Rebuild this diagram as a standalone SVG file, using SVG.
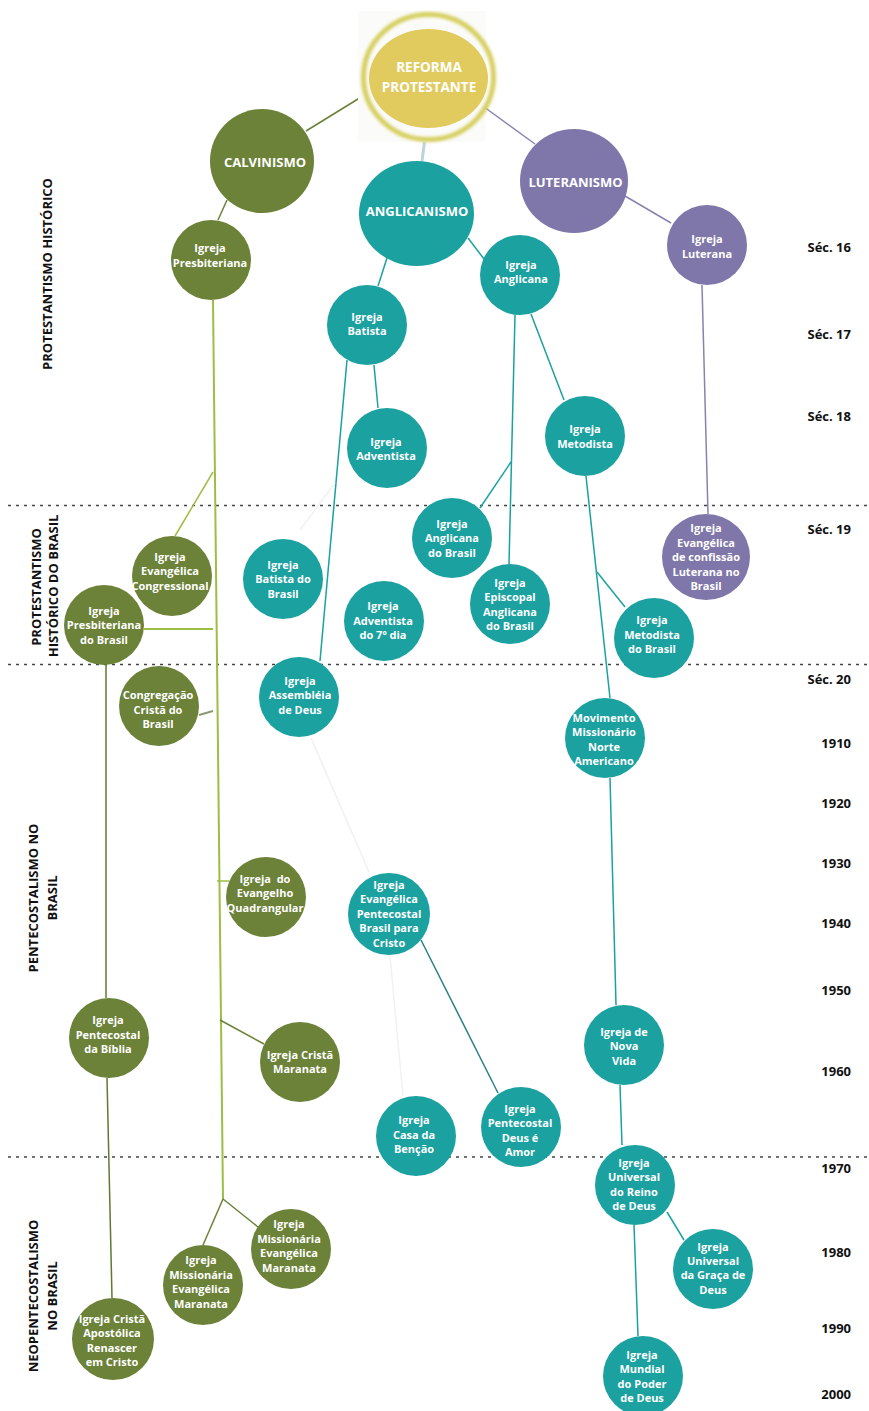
<svg xmlns="http://www.w3.org/2000/svg" width="869" height="1411" viewBox="0 0 869 1411">
<style>
  .g{fill:#6b8238}
  .t{fill:#1ba19f}
  .p{fill:#7f76aa}
  .y{fill:#e2cb5e}
  .nt{font-family:"Open Sans","Noto Sans","DejaVu Sans",sans-serif;font-weight:700;font-size:11px;fill:#ffffff;text-anchor:middle}
  .bt{font-family:"Open Sans","Noto Sans","DejaVu Sans",sans-serif;font-weight:700;font-size:13px;fill:#ffffff;text-anchor:middle}
  .lab{font-family:"Open Sans","Noto Sans","DejaVu Sans",sans-serif;font-weight:700;font-size:13px;fill:#111111}
  .yr{text-anchor:end}
  .sec{text-anchor:middle}
  .sep{stroke:#444444;stroke-width:1.5;stroke-dasharray:3 5;fill:none}
  .c line{stroke-width:1.5;fill:none}
  .lg{stroke:#6b8238}
  .lg2{stroke:#9dbd45}
  .lt{stroke:#1ba19f}
  .lp{stroke:#8a82ae}
  .faint{stroke:#f1f1f1}
</style>
<defs>
  <filter id="blur" x="-20%" y="-20%" width="140%" height="140%"><feGaussianBlur stdDeviation="1.4"/></filter>
</defs>
<rect width="869" height="1411" fill="#ffffff"/>

<g id="separators">
  <line class="sep" x1="8" y1="505.5" x2="869" y2="505.5"/>
  <line class="sep" x1="8" y1="664.5" x2="869" y2="664.5"/>
  <line class="sep" x1="8" y1="1157" x2="869" y2="1157"/>
</g>

<g id="connectors" class="c">
  <line class="lg" x1="371" y1="91" x2="306" y2="131"/>
  <line class="lp" x1="480" y1="104" x2="535" y2="144"/>
  <line x1="426" y1="130" x2="422" y2="161" stroke="#bcd3da" style="stroke-width:3"/>
  <line class="lg" x1="227" y1="200" x2="218" y2="220"/>
  <line class="lt" x1="387" y1="258" x2="378" y2="286"/>
  <line class="lt" x1="468" y1="238" x2="484" y2="259"/>
  <line class="lp" x1="625" y1="196" x2="671" y2="223"/>
  <line class="lp" x1="702" y1="285" x2="708" y2="514"/>
  <line class="lg2" x1="213" y1="300" x2="223" y2="1199" style="stroke-width:2"/>
  <line class="lg2" x1="213" y1="472" x2="175" y2="536"/>
  <line class="lg2" x1="144" y1="629" x2="213" y2="629" style="stroke-width:2"/>
  <line x1="199" y1="715" x2="213" y2="711" stroke="#8a9a70" style="stroke-width:2"/>
  <line class="lg2" x1="217" y1="881" x2="229" y2="881"/>
  <line class="lg" x1="220" y1="1020" x2="264" y2="1044"/>
  <line class="lg" x1="223" y1="1199" x2="203" y2="1245"/>
  <line class="lg" x1="223" y1="1199" x2="258" y2="1227"/>
  <line x1="106" y1="665" x2="106" y2="998" stroke="#5f7a2e"/>
  <line x1="107" y1="1078" x2="112" y2="1298" stroke="#5f7a2e"/>
  <line class="lt" x1="347" y1="360" x2="320" y2="661"/>
  <line class="lt" x1="374" y1="365" x2="378" y2="408"/>
  <line class="lt" x1="515" y1="315" x2="509" y2="564"/>
  <line class="lt" x1="511" y1="462" x2="480" y2="508"/>
  <line class="lt" x1="531" y1="314" x2="564" y2="400"/>
  <line class="lt" x1="586" y1="476" x2="610" y2="698"/>
  <line class="lt" x1="597" y1="572" x2="625" y2="607"/>
  <line class="lt" x1="610" y1="778" x2="616" y2="1005"/>
  <line class="lt" x1="620" y1="1085" x2="622" y2="1145"/>
  <line class="lt" x1="667" y1="1212" x2="684" y2="1240"/>
  <line class="lt" x1="634" y1="1225" x2="638" y2="1336"/>
  <line x1="421" y1="940" x2="498" y2="1093" stroke="#2a8188"/>
  <line class="faint" x1="311" y1="738" x2="369" y2="872"/>
  <line class="faint" x1="390" y1="956" x2="403" y2="1096"/>
  <line class="faint" x1="300" y1="530" x2="335" y2="483"/>
</g>

<g id="labels-left" class="lab sec">
  <text transform="translate(47.5,274) rotate(-90)" y="4.6">PROTESTANTISMO HISTÓRICO</text>
  <text transform="translate(36,587) rotate(-90)" y="4.6">PROTESTANTISMO</text>
  <text transform="translate(53.5,586) rotate(-90)" y="4.6">HISTÓRICO DO BRASIL</text>
  <text transform="translate(33,898) rotate(-90)" y="4.6">PENTECOSTALISMO NO</text>
  <text transform="translate(52,898) rotate(-90)" y="4.6">BRASIL</text>
  <text transform="translate(33,1296) rotate(-90)" y="4.6">NEOPENTECOSTALISMO</text>
  <text transform="translate(52,1296) rotate(-90)" y="4.6">NO BRASIL</text>
</g>

<g id="labels-right" class="lab yr">
  <text x="851" y="251.5">Séc. 16</text>
  <text x="851" y="338.5">Séc. 17</text>
  <text x="851" y="420.5">Séc. 18</text>
  <text x="851" y="533.5">Séc. 19</text>
  <text x="851" y="683.5">Séc. 20</text>
  <text x="851" y="747.5">1910</text>
  <text x="851" y="807.5">1920</text>
  <text x="851" y="867.5">1930</text>
  <text x="851" y="927.5">1940</text>
  <text x="851" y="994.5">1950</text>
  <text x="851" y="1075.5">1960</text>
  <text x="851" y="1172.5">1970</text>
  <text x="851" y="1256.5">1980</text>
  <text x="851" y="1332.5">1990</text>
  <text x="851" y="1398.5">2000</text>
</g>

<g id="reforma">
  <rect x="358" y="11" width="128" height="131" fill="#fbfbf9"/>
  <ellipse cx="428.5" cy="77" rx="65" ry="62.5" fill="none" stroke="#d6cf5e" stroke-width="5" filter="url(#blur)"/>
  <ellipse cx="428.5" cy="78.5" rx="59.5" ry="49.5" class="y"/>
  <text class="bt" style="font-size:13.5px"><tspan x="429" y="71.5">REFORMA</tspan><tspan x="429" y="91.5">PROTESTANTE</tspan></text>
</g>
<g id="calvinismo">
  <circle cx="262" cy="161" r="52" class="g"/>
  <text class="bt" x="265" y="167">CALVINISMO</text>
</g>
<g id="anglicanismo">
  <ellipse cx="416.5" cy="213.5" rx="57.5" ry="52.5" class="t"/>
  <text class="bt" x="417" y="215.5">ANGLICANISMO</text>
</g>
<g id="luteranismo">
  <ellipse cx="574" cy="181" rx="54" ry="52" class="p"/>
  <text class="bt" x="575.5" y="186.5">LUTERANISMO</text>
</g>
<g id="presbiteriana">
  <circle cx="211" cy="260" r="40" class="g"/>
  <text class="nt"><tspan x="210" y="252">Igreja</tspan><tspan x="210" y="267">Presbiteriana</tspan></text>
</g>
<g id="anglicana">
  <circle cx="520" cy="275" r="40" class="t"/>
  <text class="nt"><tspan x="521" y="269">Igreja</tspan><tspan x="521" y="283">Anglicana</tspan></text>
</g>
<g id="luterana">
  <circle cx="707" cy="245" r="40" class="p"/>
  <text class="nt"><tspan x="707" y="243">Igreja</tspan><tspan x="707" y="258">Luterana</tspan></text>
</g>
<g id="batista">
  <circle cx="367" cy="325" r="40" class="t"/>
  <text class="nt"><tspan x="367" y="321">Igreja</tspan><tspan x="367" y="335">Batista</tspan></text>
</g>
<g id="adventista">
  <circle cx="387" cy="448" r="40" class="t"/>
  <text class="nt"><tspan x="386" y="446">Igreja</tspan><tspan x="386" y="460">Adventista</tspan></text>
</g>
<g id="metodista">
  <circle cx="585" cy="436" r="40" class="t"/>
  <text class="nt"><tspan x="585" y="433">Igreja</tspan><tspan x="585" y="448">Metodista</tspan></text>
</g>
<g id="anglicana-brasil">
  <circle cx="452" cy="538" r="40" class="t"/>
  <text class="nt"><tspan x="452" y="528">Igreja</tspan><tspan x="452" y="542">Anglicana</tspan><tspan x="452" y="557">do Brasil</tspan></text>
</g>
<g id="episcopal">
  <circle cx="510" cy="604" r="40" class="t"/>
  <text class="nt"><tspan x="510" y="587">Igreja</tspan><tspan x="510" y="601">Episcopal</tspan><tspan x="510" y="616">Anglicana</tspan><tspan x="510" y="630">do Brasil</tspan></text>
</g>
<g id="confissao-luterana">
  <ellipse cx="706" cy="557" rx="44" ry="43" class="p"/>
  <text class="nt"><tspan x="706" y="532">Igreja</tspan><tspan x="706" y="547">Evangélica</tspan><tspan x="706" y="561">de confissão</tspan><tspan x="706" y="576">Luterana no</tspan><tspan x="706" y="590">Brasil</tspan></text>
</g>
<g id="metodista-brasil">
  <circle cx="654" cy="638" r="40" class="t"/>
  <text class="nt"><tspan x="652" y="624">Igreja</tspan><tspan x="652" y="639">Metodista</tspan><tspan x="652" y="653">do Brasil</tspan></text>
</g>
<g id="congregacional">
  <circle cx="172" cy="576" r="40" class="g"/>
  <text class="nt"><tspan x="170" y="561">Igreja</tspan><tspan x="170" y="575">Evangélica</tspan><tspan x="170" y="590">Congressional</tspan></text>
</g>
<g id="presbiteriana-brasil">
  <circle cx="104" cy="625" r="40" class="g"/>
  <text class="nt"><tspan x="104" y="615">Igreja</tspan><tspan x="104" y="629">Presbiteriana</tspan><tspan x="104" y="644">do Brasil</tspan></text>
</g>
<g id="batista-brasil">
  <circle cx="283" cy="579" r="40" class="t"/>
  <text class="nt"><tspan x="283" y="569">Igreja</tspan><tspan x="283" y="583">Batista do</tspan><tspan x="283" y="598">Brasil</tspan></text>
</g>
<g id="adventista-7">
  <circle cx="384" cy="621" r="40" class="t"/>
  <text class="nt"><tspan x="383" y="610">Igreja</tspan><tspan x="383" y="625">Adventista</tspan><tspan x="383" y="639">do 7º dia</tspan></text>
</g>
<g id="congregacao-crista">
  <circle cx="159" cy="706" r="40" class="g"/>
  <text class="nt"><tspan x="158" y="699">Congregação</tspan><tspan x="158" y="714">Cristã do</tspan><tspan x="158" y="728">Brasil</tspan></text>
</g>
<g id="assembleia">
  <circle cx="299" cy="697" r="40" class="t"/>
  <text class="nt"><tspan x="300" y="685">Igreja</tspan><tspan x="300" y="699">Assembléia</tspan><tspan x="300" y="714">de Deus</tspan></text>
</g>
<g id="movimento">
  <circle cx="605" cy="738" r="40" class="t"/>
  <text class="nt"><tspan x="604" y="722">Movimento</tspan><tspan x="604" y="736">Missionário</tspan><tspan x="604" y="751">Norte</tspan><tspan x="604" y="765">Americano</tspan></text>
</g>
<g id="brasil-para-cristo">
  <circle cx="389" cy="914" r="41" class="t"/>
  <text class="nt"><tspan x="389" y="889">Igreja</tspan><tspan x="389" y="903">Evangélica</tspan><tspan x="389" y="918">Pentecostal</tspan><tspan x="389" y="932">Brasil para</tspan><tspan x="389" y="947">Cristo</tspan></text>
</g>
<g id="quadrangular">
  <circle cx="266" cy="897" r="40" class="g"/>
  <text class="nt" style="white-space:pre"><tspan x="265" y="883">Igreja  do</tspan><tspan x="265" y="897">Evangelho</tspan><tspan x="265" y="912">Quadrangular</tspan></text>
</g>
<g id="pentecostal-biblia">
  <circle cx="109" cy="1038" r="40" class="g"/>
  <text class="nt"><tspan x="108" y="1024">Igreja</tspan><tspan x="108" y="1039">Pentecostal</tspan><tspan x="108" y="1053">da Bíblia</tspan></text>
</g>
<g id="crista-maranata">
  <circle cx="300" cy="1062" r="40" class="g"/>
  <text class="nt"><tspan x="300" y="1059">Igreja Cristã</tspan><tspan x="300" y="1073">Maranata</tspan></text>
</g>
<g id="nova-vida">
  <circle cx="624" cy="1045" r="40" class="t"/>
  <text class="nt"><tspan x="624" y="1035.5">Igreja de</tspan><tspan x="624" y="1050">Nova</tspan><tspan x="624" y="1064.5">Vida</tspan></text>
</g>
<g id="casa-bencao">
  <circle cx="416" cy="1136" r="40" class="t"/>
  <text class="nt"><tspan x="414" y="1124">Igreja</tspan><tspan x="414" y="1139">Casa da</tspan><tspan x="414" y="1153">Benção</tspan></text>
</g>
<g id="deus-e-amor">
  <circle cx="521" cy="1127" r="40" class="t"/>
  <text class="nt"><tspan x="520" y="1113">Igreja</tspan><tspan x="520" y="1127">Pentecostal</tspan><tspan x="520" y="1142">Deus é</tspan><tspan x="520" y="1156">Amor</tspan></text>
</g>
<g id="universal-reino">
  <circle cx="635" cy="1185" r="40" class="t"/>
  <text class="nt"><tspan x="634" y="1167">Igreja</tspan><tspan x="634" y="1181">Universal</tspan><tspan x="634" y="1196">do Reino</tspan><tspan x="634" y="1210">de Deus</tspan></text>
</g>
<g id="universal-graca">
  <circle cx="713" cy="1269" r="40" class="t"/>
  <text class="nt"><tspan x="713" y="1251">Igreja</tspan><tspan x="713" y="1265">Universal</tspan><tspan x="713" y="1279">da Graça de</tspan><tspan x="713" y="1294">Deus</tspan></text>
</g>
<g id="mundial">
  <circle cx="643" cy="1376" r="40" class="t"/>
  <text class="nt"><tspan x="642" y="1359">Igreja</tspan><tspan x="642" y="1373">Mundial</tspan><tspan x="642" y="1388">do Poder</tspan><tspan x="642" y="1402">de Deus</tspan></text>
</g>
<g id="renascer">
  <circle cx="113" cy="1339" r="41" class="g"/>
  <text class="nt"><tspan x="112" y="1323">Igreja Cristã</tspan><tspan x="112" y="1337">Apostólica</tspan><tspan x="112" y="1352">Renascer</tspan><tspan x="112" y="1366">em Cristo</tspan></text>
</g>
<g id="missionaria-1">
  <circle cx="203" cy="1285" r="40" class="g"/>
  <text class="nt"><tspan x="201" y="1264">Igreja</tspan><tspan x="201" y="1279">Missionária</tspan><tspan x="201" y="1293">Evangélica</tspan><tspan x="201" y="1308">Maranata</tspan></text>
</g>
<g id="missionaria-2">
  <circle cx="291" cy="1249" r="40" class="g"/>
  <text class="nt"><tspan x="289" y="1228">Igreja</tspan><tspan x="289" y="1243">Missionária</tspan><tspan x="289" y="1257">Evangélica</tspan><tspan x="289" y="1272">Maranata</tspan></text>
</g>
</svg>
